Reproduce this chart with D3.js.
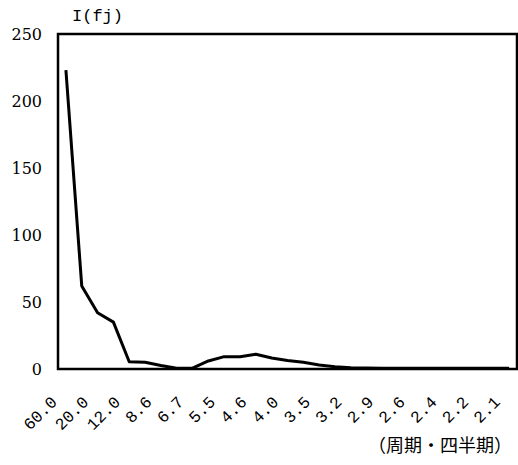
<!DOCTYPE html>
<html>
<head>
<meta charset="utf-8">
<script src="https://cdn.jsdelivr.net/npm/d3@7"></script>
<style>
    body { margin: 0; background: #fff; }
    svg { display: block; }
</style>
</head>
<body>
<svg id="chart"></svg>
<script>
// Periods (quarters) for each spectrum point; every second one is labelled.
const periods = ['60.0', '30.0', '20.0', '15.0', '12.0', '10.0', '8.6', '7.5', '6.7', '6.0',
    '5.5', '5.0', '4.6', '4.3', '4.0', '3.8', '3.5', '3.3', '3.2', '3.0',
    '2.9', '2.7', '2.6', '2.5', '2.4', '2.3', '2.2', '2.1', '2.1'];
const intensity = [223, 62, 42, 35, 5.4, 5.0, 2.6, 0.6, 0.6, 6.0,
    9.2, 9.2, 11.0, 8.2, 6.4, 5.0, 3.0, 1.6, 1.0, 0.7,
    0.5, 0.5, 0.5, 0.5, 0.5, 0.5, 0.6, 0.6, 0.6];
const yTicks = [0, 50, 100, 150, 200, 250];
const labelEvery = 2;

// Chart dimensions.
const width = 518, height = 465;
const marginLeft = 58, marginRight = 1, marginTop = 34, marginBottom = 96;

const svg = d3.select('#chart').attr('width', width).attr('height', height);

// X scale (one band per point, line through band centres).
const x = d3.scaleBand()
    .domain(d3.range(periods.length))
    .range([marginLeft, width - marginRight]);

// Y scale.
const y = d3.scaleLinear()
    .domain([0, 250])
    .range([height - marginBottom, marginTop]);

// Plot frame.
svg.append('rect')
    .attr('x', marginLeft)
    .attr('y', marginTop)
    .attr('width', width - marginRight - marginLeft)
    .attr('height', height - marginBottom - marginTop)
    .attr('fill', 'none')
    .attr('stroke', '#000')
    .attr('stroke-width', 2.5);

// Y axis labels.
const yAxis = svg.append('g')
    .attr('transform', `translate(${marginLeft}, 0)`)
    .call(d3.axisLeft(y).tickValues(yTicks).tickSize(0).tickPadding(16));
yAxis.select('.domain').remove();
yAxis.selectAll('text')
    .attr('font-family', 'DejaVu Serif')
    .attr('font-size', 16)
    .attr('fill', '#000');

// X axis labels, rotated.
const xAxis = svg.append('g')
    .attr('transform', `translate(0, ${height - marginBottom})`)
    .call(d3.axisBottom(x)
        .tickValues(d3.range(0, periods.length, labelEvery))
        .tickFormat(i => periods[i])
        .tickSize(0));
xAxis.select('.domain').remove();
xAxis.selectAll('text')
    .attr('font-family', 'Liberation Mono')
    .attr('font-size', 16.5)
    .attr('fill', '#000')
    .attr('text-anchor', 'end')
    .attr('dy', null)
    .attr('y', null)
    .attr('transform', 'translate(-8, 34) rotate(-45)');

// Axis titles.
svg.append('text')
    .attr('x', 72)
    .attr('y', 21)
    .attr('font-family', 'Liberation Mono')
    .attr('font-size', 17)
    .text('I(fj)');

svg.append('text')
    .attr('x', 368)
    .attr('y', 452)
    .attr('font-family', 'Noto Sans CJK JP')
    .attr('font-size', 18)
    .text('（周期・四半期）');

// The line.
const line = d3.line()
    .x((d, i) => x(i) + x.bandwidth() / 2)
    .y(d => y(d));

svg.append('path')
    .datum(intensity)
    .attr('fill', 'none')
    .attr('stroke', '#000')
    .attr('stroke-width', 3)
    .attr('stroke-linejoin', 'round')
    .attr('d', line);
</script>
</body>
</html>
